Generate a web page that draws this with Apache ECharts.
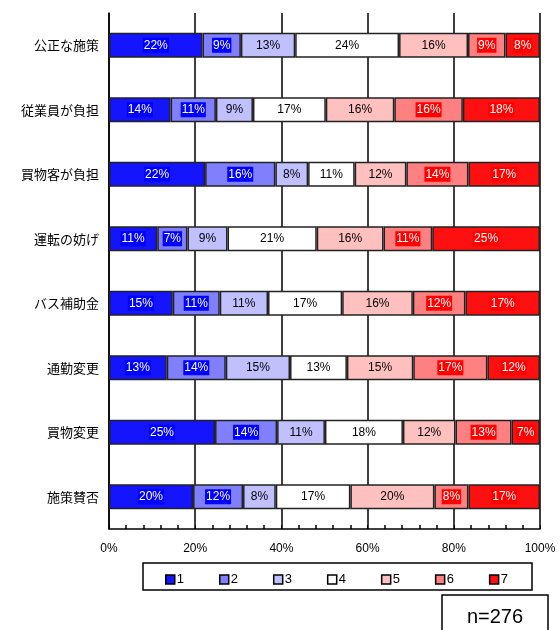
<!DOCTYPE html>
<html>
<head>
<meta charset="utf-8">
<script src="https://cdn.jsdelivr.net/npm/echarts@6/dist/echarts.min.js"></script>
<style>html,body{margin:0;padding:0;background:#fff}#c{width:560px;height:630px}</style>
</head>
<body>
<div id="c"></div>
<script>
const categories = ['公正な施策','従業員が負担','買物客が負担','運転の妨げ','バス補助金','通勤変更','買物変更','施策賛否'];
const seriesNames = ['1','2','3','4','5','6','7'];
const s1 = [21.7, 14.3, 22.3, 11.2, 14.8, 13.4, 24.6, 19.5];
const s2 = [8.9, 10.5, 16.3, 7.0, 10.9, 13.7, 14.4, 11.6];
const s3 = [12.6, 8.6, 7.6, 9.3, 11.2, 14.9, 11.1, 7.6];
const s4 = [24.1, 16.9, 10.8, 20.7, 17.2, 13.2, 18.1, 17.3];
const s5 = [16.0, 15.9, 12.0, 15.5, 16.4, 15.4, 12.2, 19.5];
const s6 = [8.7, 15.9, 14.4, 11.3, 12.2, 17.2, 13.0, 7.9];
const s7 = [8.0, 17.9, 16.6, 25.0, 17.3, 12.2, 6.6, 16.6];
const xTicks = ['0%','20%','40%','60%','80%','100%'];
const sampleNote = 'n=276';

const values = [s1,s2,s3,s4,s5,s6,s7];
const barColors = ['#1414ff','#8080ff','#c0c0ff','#ffffff','#ffc0c0','#ff8080','#ff1010'];
const labelStyles = [
  {color:'#fff', backgroundColor:'#0000ff'},
  {color:'#fff', backgroundColor:'#0000ff'},
  {color:'#000'},
  {color:'#000'},
  {color:'#000'},
  {color:'#fff', backgroundColor:'#ff0000'},
  {color:'#fff', backgroundColor:'#ff0000'}
];

const chart = echarts.init(document.getElementById('c'), null, {renderer:'canvas'});
const series = values.map((v, i) => ({
  name: seriesNames[i],
  type: 'bar',
  stack: 'all',
  barWidth: 25,
  data: v,
  itemStyle: {color: barColors[i], borderColor: '#222', borderWidth: 1.5},
  label: Object.assign({
    show: true,
    position: 'inside',
    fontFamily: 'Liberation Sans, Arial, sans-serif',
    fontSize: 12,
    padding: [2, 1, 1, 1],
    formatter: p => Math.round(p.value) + '%'
  }, labelStyles[i])
}));

chart.setOption({
  animation: false,
  backgroundColor: '#fff',
  grid: {left: 109, right: 20, top: 13, height: 516},
  xAxis: {
    type: 'value', min: 0, max: 100, interval: 20,
    axisLine: {show: true, lineStyle: {color: '#000', width: 1.5}},
    axisTick: {show: true, inside: true, length: 4, lineStyle: {color: '#000'}},
    minorTick: {show: true, splitNumber: 5, length: 4, lineStyle: {color: '#000', width: 1.5}},
    splitLine: {show: true, lineStyle: {color: '#000', width: 1.5}},
    axisLabel: {
      margin: 14, fontSize: 12, color: '#000', fontFamily: 'Liberation Sans, Arial, sans-serif',
      formatter: v => xTicks[Math.round(v / 20)]
    }
  },
  yAxis: {
    type: 'category', data: categories, inverse: true,
    axisLine: {show: true, lineStyle: {color: '#000', width: 1.5}},
    axisTick: {show: false},
    axisLabel: {margin: 10, fontSize: 13, color: '#000', fontFamily: 'Noto Sans CJK JP, sans-serif'}
  },
  legend: {
    data: seriesNames,
    left: 160, top: 568,
    itemWidth: 9, itemHeight: 9, itemGap: 35,
    icon: 'rect',
    itemStyle: {borderColor: '#000', borderWidth: 1.5},
    textStyle: {fontSize: 13, color: '#000', padding: [0,0,0,-3], fontFamily: 'Liberation Sans, Arial, sans-serif'},
    selectedMode: false
  },
  graphic: [
    {type: 'rect', shape: {x: 143, y: 563, width: 389, height: 27}, style: {fill: 'none', stroke: '#000', lineWidth: 1.5}, silent: true},
    {type: 'rect', shape: {x: 442, y: 595, width: 106, height: 45}, style: {fill: '#fff', stroke: '#000', lineWidth: 1.5}, silent: true},
    {type: 'text', x: 495, y: 617, style: {text: sampleNote, fontSize: 20, fill: '#000', align: 'center', verticalAlign: 'middle', fontFamily: 'Liberation Sans, Arial, sans-serif'}, silent: true}
  ],
  series: series
});
</script>
</body>
</html>
